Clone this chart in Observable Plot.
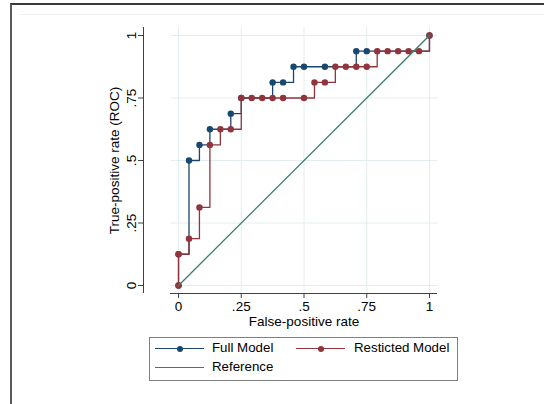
<!DOCTYPE html>
<html>
<head>
<meta charset="utf-8">
<script src="https://cdn.jsdelivr.net/npm/d3@7"></script>
<script src="https://cdn.jsdelivr.net/npm/@observablehq/plot@0.6"></script>
<style>
  body { margin: 0; background: #fff; font-family: "Liberation Sans", Arial, sans-serif; }
  #wrap { position: relative; width: 544px; height: 404px; overflow: hidden; background: #fff; }
  #frame { position: absolute; left: 10px; top: 3px; width: 600px; height: 500px; border-left: 2px solid #5a5a5a; border-top: 2px solid #3a3a3a; }
  #inner { position: absolute; left: 19px; top: 14px; width: 600px; border-top: 1px solid #eef1f2; }
  #chart { position: absolute; left: 0; top: 0; }
  #legend { position: absolute; left: 149px; top: 337px; width: 307px; height: 42px; border: 1px solid #808080; background: #fff; font-size: 13.3px; color: #000; }
  .sw { position: absolute; height: 1.4px; width: 49px; }
  .mk { position: absolute; width: 6px; height: 6px; border-radius: 50%; }
  .lb { position: absolute; line-height: 16px; white-space: nowrap; }
</style>
</head>
<body>
<div id="wrap">
  <div id="frame"></div>
  <div id="inner"></div>
  <div id="chart"></div>
  <div id="legend"></div>
</div>
<script>
// ---- data ----
const fullFpr = [0, 0, 0.0417, 0.0833, 0.125, 0.2083, 0.25, 0.375, 0.4167, 0.4583, 0.5, 0.5833, 0.7083, 0.75, 1];
const fullTpr = [0, 0.125, 0.5, 0.5625, 0.625, 0.6875, 0.75, 0.8125, 0.8125, 0.875, 0.875, 0.875, 0.9375, 0.9375, 1];
const restFpr = [0, 0, 0.0417, 0.0833, 0.125, 0.1667, 0.2083, 0.25, 0.2917, 0.3333, 0.375, 0.4167, 0.5, 0.5417, 0.5833, 0.625, 0.6667, 0.7083, 0.75, 0.7917, 0.8333, 0.875, 0.9167, 0.9583, 1];
const restTpr = [0, 0.125, 0.1875, 0.3125, 0.5625, 0.625, 0.625, 0.75, 0.75, 0.75, 0.75, 0.75, 0.75, 0.8125, 0.8125, 0.875, 0.875, 0.875, 0.875, 0.9375, 0.9375, 0.9375, 0.9375, 0.9375, 1];
const refFpr = [0, 1];
const refTpr = [0, 1];
const tickValues = [0, 0.25, 0.5, 0.75, 1];
const tickLabels = ["0", ".25", ".5", ".75", "1"];
const seriesNames = ["Full Model", "Resticted Model", "Reference"];
const xTitle = "False-positive rate";
const yTitle = "True-positive rate (ROC)";

// ---- styling ----
const cFull = "#1a476f", cRest = "#90353b", cRef = "#3a7d6e";
const gridColor = "#e3ecef", axisColor = "#404040";
const dom = [-0.032, 1.032];

const full = fullFpr.map((x, i) => ({x, y: fullTpr[i]}));
const rest = restFpr.map((x, i) => ({x, y: restTpr[i]}));
const ref = refFpr.map((x, i) => ({x, y: refTpr[i]}));
const fmt = d => tickLabels[tickValues.indexOf(d)];

const chart = Plot.plot({
  width: 544,
  height: 334,
  marginLeft: 170,
  marginRight: 107,
  marginTop: 27,
  marginBottom: 41,
  style: {fontFamily: "'Liberation Sans', Arial, sans-serif", fontSize: "13.5px", color: "#000", background: "transparent", overflow: "visible"},
  x: {domain: dom},
  y: {domain: dom},
  marks: [
    Plot.gridX(tickValues, {stroke: gridColor, strokeOpacity: 1, strokeWidth: 1}),
    Plot.gridY(tickValues, {stroke: gridColor, strokeOpacity: 1, strokeWidth: 1}),
    Plot.ruleY([dom[0]], {stroke: axisColor, strokeWidth: 1}),
    Plot.ruleX([dom[0]], {dx: -27, stroke: axisColor, strokeWidth: 1}),
    Plot.axisX({ticks: tickValues, tickFormat: fmt, tickSize: 5, tickPadding: 3, stroke: axisColor, fill: "#000", label: null}),
    Plot.axisY({ticks: tickValues, tickFormat: fmt, tickSize: 5, tickPadding: 3, tickRotate: -90, dx: -27, stroke: axisColor, fill: "#000", label: null}),
    Plot.text([xTitle], {frameAnchor: "bottom", dy: 23, lineAnchor: "top", textAnchor: "middle", text: d => d, fill: "#000"}),
    Plot.text([yTitle], {frameAnchor: "left", dx: -56, rotate: -90, textAnchor: "middle", lineAnchor: "middle", text: d => d, fill: "#000"}),
    Plot.line(full, {x: "x", y: "y", curve: "step-after", stroke: cFull, strokeWidth: 1.3}),
    Plot.dot(full, {x: "x", y: "y", r: 3.2, fill: cFull, stroke: "none"}),
    Plot.line(rest, {x: "x", y: "y", curve: "step-after", stroke: cRest, strokeWidth: 1.3}),
    Plot.dot(rest, {x: "x", y: "y", r: 3.2, fill: cRest, stroke: "none"}),
    Plot.line(ref, {x: "x", y: "y", stroke: cRef, strokeWidth: 1.3})
  ]
});
document.getElementById("chart").appendChild(chart);

// ---- legend ----
const legend = document.getElementById("legend");
const items = [
  {name: seriesNames[0], color: cFull, marker: true, sx: 5, tx: 62, cy: 10},
  {name: seriesNames[1], color: cRest, marker: true, sx: 146, tx: 204, cy: 10},
  {name: seriesNames[2], color: cRef, marker: false, sx: 5, tx: 62, cy: 29}
];
for (const it of items) {
  const sw = document.createElement("div");
  sw.className = "sw";
  sw.style.left = it.sx + "px";
  sw.style.top = (it.cy - 0.5) + "px";
  sw.style.background = it.color;
  legend.appendChild(sw);
  if (it.marker) {
    const mk = document.createElement("div");
    mk.className = "mk";
    mk.style.left = (it.sx + 22) + "px";
    mk.style.top = (it.cy - 2.5) + "px";
    mk.style.background = it.color;
    legend.appendChild(mk);
  }
  const lb = document.createElement("div");
  lb.className = "lb";
  lb.style.left = it.tx + "px";
  lb.style.top = (it.cy - 8) + "px";
  lb.textContent = it.name;
  legend.appendChild(lb);
}
</script>
</body>
</html>
